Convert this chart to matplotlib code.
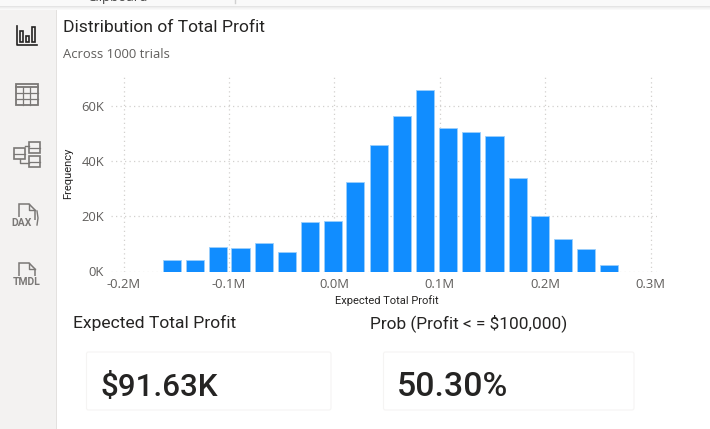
import matplotlib
matplotlib.use("Agg")
import matplotlib.pyplot as plt
from matplotlib.patches import Rectangle, FancyBboxPatch, Polygon
from matplotlib.ticker import FuncFormatter

# bin centres in $M and counts
bin_centers = [-0.154, -0.132, -0.110, -0.089, -0.067, -0.045, -0.023, -0.001, 0.020, 0.042,
               0.064, 0.086, 0.108, 0.130, 0.152, 0.174, 0.195, 0.217, 0.239, 0.261]
frequency = [4000, 4000, 9000, 8500, 10300, 7200, 17800, 18300, 32300, 45800,
             56200, 65500, 52000, 50500, 49000, 33800, 20000, 11700, 8200, 2200]
x_ticks = [-0.2, -0.1, 0.0, 0.1, 0.2, 0.3]
y_ticks = [0, 20000, 40000, 60000]

W, H = 710, 429
fig = plt.figure(figsize=(W / 100, H / 100), dpi=100, facecolor="white")

# full figure axes in pixels for the report chrome
bg = fig.add_axes([0, 0, 1, 1])
bg.set_xlim(0, W)
bg.set_ylim(H, 0)
bg.axis("off")

# left rail
bg.add_patch(Rectangle((0, 0), 56, H, color="#f3f2f1", lw=0))
bg.add_patch(Rectangle((56, 0), 1.2, H, color="#e3e1df", lw=0))

# ribbon with soft shadow
bg.add_patch(Rectangle((0, 0), W, 6, color="#f9f9f9", lw=0, zorder=3))
for i, c in enumerate(["#e4e4e4", "#eeeeee", "#f4f4f4", "#f9f9f9"]):
    bg.add_patch(Rectangle((0, 6 + i), W, 1, color=c, lw=0, zorder=3))
bg.plot([235, 235], [0, 3], color="#d0d0d0", lw=1, zorder=4)
bg.text(117, -2.5, "Clipboard", fontsize=9.5, family="Open Sans", color="#444444", ha="center",
        va="center", zorder=4)
bg.text(476, -3, "Data", fontsize=9.5, family="Open Sans", color="#444444", ha="center",
        va="center", zorder=4)

ICON = "#7a7876"
# report view icon, selected
bg.plot([17, 17, 37], [26, 44.5, 44.5], color="#252423", lw=1.2)
for x0, top in [(20, 31), (26, 36), (32, 27)]:
    bg.add_patch(Rectangle((x0, top), 3.2, 42 - top, fill=False, ec="#252423", lw=1.2))
# table icon
bg.add_patch(Rectangle((15.5, 84), 22, 20.5, fill=False, ec=ICON, lw=1.3))
bg.plot([15.5, 37.5], [87, 87], color=ICON, lw=1.3)
for yy in [92.5, 98.5]:
    bg.plot([15.5, 37.5], [yy, yy], color=ICON, lw=0.9)
for xx in [22.8, 30.2]:
    bg.plot([xx, xx], [87, 104.5], color=ICON, lw=0.9)
# model icon
bg.add_patch(Rectangle((14, 148), 11, 11, fill=False, ec=ICON, lw=1.2))
bg.add_patch(Rectangle((29, 142), 11, 11, fill=False, ec=ICON, lw=1.2))
bg.add_patch(Rectangle((29, 156), 11, 11, fill=False, ec=ICON, lw=1.2))
bg.plot([14, 25], [153.5, 153.5], color=ICON, lw=0.9)
bg.plot([29, 40], [147.5, 147.5], color=ICON, lw=0.9)
bg.plot([29, 40], [161.5, 161.5], color=ICON, lw=0.9)
bg.plot([20, 20, 29], [159, 163, 163], color=ICON, lw=1)
bg.plot([25, 29], [146, 146], color=ICON, lw=1)
# DAX and TMDL file icons
for y0, label, lx in [(204, "DAX", 22), (263, "TMDL", 27)]:
    bg.add_patch(Polygon([(19, y0 + 16), (19, y0), (29, y0), (35, y0 + 6), (35, y0 + 16)],
                         closed=False, fill=False, ec=ICON, lw=1.1))
    bg.plot([29, 29, 35], [y0, y0 + 6, y0 + 6], color=ICON, lw=1)
    bg.text(lx, y0 + 19, label, fontsize=7.5, family="Roboto", weight="bold", color=ICON,
            ha="center", va="center",
            bbox=dict(facecolor="#f3f2f1", edgecolor="none", pad=0.6))
bg.plot([37, 38, 37], [211, 218, 225], color=ICON, lw=1)

# titles
bg.text(63, 28, "Distribution of Total Profit", fontsize=12.6, family="Roboto",
        color="#252423", va="center")
bg.text(63, 54, "Across 1000 trials", fontsize=9.4, family="Open Sans", color="#605e5c", va="center")

# histogram, axes span the gridline extent
left, right, top, bottom = 111, 657, 76, 271.5
ax = fig.add_axes([left / W, 1 - bottom / H, (right - left) / W, (bottom - top) / H])
ax.patch.set_alpha(0)
px_per_m = 1054.0
ax.set_xlim(-0.2 - 12.5 / px_per_m, 0.3 + 6.5 / px_per_m)
ax.set_ylim(0, 70700)
ax.bar(bin_centers, frequency, width=0.0172, color="#118dff", edgecolor="#9ccffb", linewidth=0.6, zorder=3)

ax.set_xticks(x_ticks)
ax.set_yticks(y_ticks)
ax.xaxis.set_major_formatter(FuncFormatter(lambda v, p: f"{v:.1f}M"))
ax.yaxis.set_major_formatter(FuncFormatter(lambda v, p: f"{v / 1000:.0f}K"))
ax.tick_params(length=0, labelsize=9.4, labelcolor="#605e5c", pad=5)
for lab in ax.get_xticklabels() + ax.get_yticklabels():
    lab.set_family("Open Sans")
ax.grid(True, color="#d2d0ce", linestyle=(0, (1, 2.6)), linewidth=0.9, zorder=0)
for s in ax.spines.values():
    s.set_visible(False)

bg.text(387, 300.5, "Expected Total Profit", fontsize=8, family="Roboto", color="#252423",
        ha="center", va="center")
bg.text(68.5, 173, "Frequency", fontsize=8, family="Roboto", color="#252423", rotation=90,
        ha="center", va="center")

# KPI cards
bg.text(73, 323, "Expected Total Profit", fontsize=12.6, family="Roboto", color="#252423", va="center")
bg.text(370, 323, "Prob (Profit < = $100,000)", fontsize=12.45, family="Roboto", color="#252423", va="center")
for x0, x1 in [(86.5, 331), (383.5, 634)]:
    bg.add_patch(FancyBboxPatch((x0 + 2, 354), x1 - x0 - 4, 54, boxstyle="round,pad=2",
                                fc="white", ec="#f5f4f3", lw=0.8))
bg.text(100, 387.5, "$91.63K", fontsize=22.6, family="Roboto", weight="medium", color="#252423", va="center")
bg.text(396.5, 387.5, "50.30%", fontsize=24.4, family="Roboto", weight="medium", color="#252423", va="center")

fig.savefig("out.png", dpi=100)
